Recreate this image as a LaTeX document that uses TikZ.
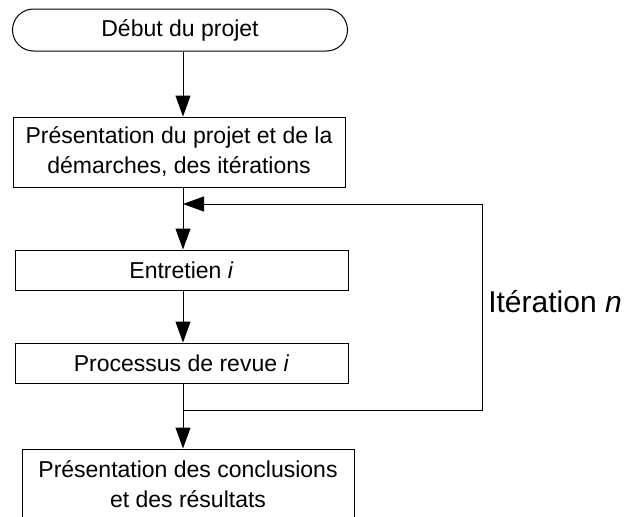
\documentclass[tikz,border=0pt]{standalone}
\usepackage{fontspec}
\setmainfont{Liberation Sans}
\usepackage{tikz}
\usetikzlibrary{arrows.meta,positioning,calc}

\begin{document}
\begin{tikzpicture}[x=1pt, y=-1pt,
    boite/.style={draw, line width=1pt, rectangle, align=center, inner sep=0pt,
        font=\fontsize{23}{30}\selectfont},
    terminal/.style={boite, rounded corners=21pt},
    fleche/.style={line width=1pt, -{Triangle[length=21pt, width=15pt]}},
    trait/.style={line width=1pt}]
    \useasboundingbox (0,0) rectangle (625,517);
    \clip (0,0) rectangle (625,517);

    % Blocs
    \node[terminal, minimum width=335pt, minimum height=42pt] (debut) at (180,30) {D\'ebut du projet};
    \node[boite, minimum width=332pt, minimum height=70pt] (pres) at (179,152)
        {Pr\'esentation du projet et de la\\d\'emarches, des it\'erations};
    \node[boite, minimum width=333pt, minimum height=40pt] (entretien) at (181.5,270) {Entretien \textit{i}};
    \node[boite, minimum width=333pt, minimum height=40pt] (revue) at (181.5,363) {Processus de revue \textit{i}};
    \node[boite, minimum width=332pt, minimum height=70pt] (concl) at (188,484)
        {Pr\'esentation des conclusions\\et des r\'esultats};

    % Axe vertical des fleches
    \coordinate (axe) at (183,0);
    \coordinate (jhaut) at (183,204);
    \coordinate (jbas) at (183,410);
    \coordinate (droite) at (482,204);

    \draw[fleche] (debut.south -| axe) -- (pres.north -| axe);
    \draw[fleche] (pres.south -| axe) -- (entretien.north -| axe);
    \draw[fleche] (entretien.south -| axe) -- (revue.north -| axe);
    \draw[fleche] (revue.south -| axe) -- (concl.north -| axe);

    % Boucle d'iteration
    \draw[fleche] (jbas) -| (droite) -- (jhaut);
    \node[font=\fontsize{30}{36}\selectfont] (iter) at (555,302) {It\'eration \textit{n}};
\end{tikzpicture}
\end{document}
